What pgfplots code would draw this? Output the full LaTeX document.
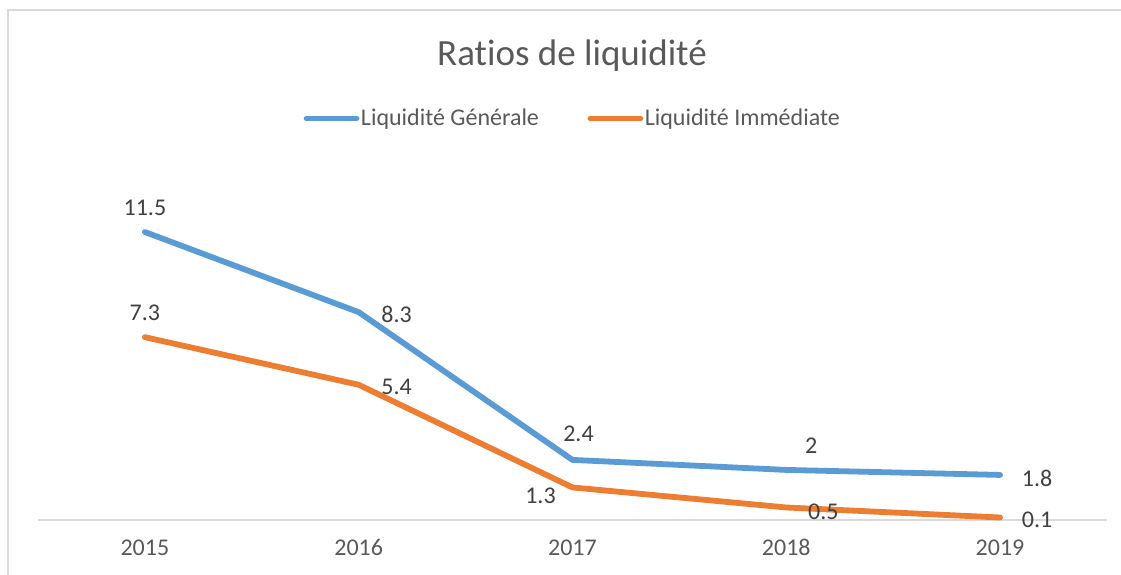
\documentclass[border=0pt]{standalone}
\usepackage{pgfplots}
\pgfplotsset{compat=1.18}
\usepackage{fontspec}
\setmainfont{Carlito}[Ligatures=NoCommon]
\definecolor{cblue}{HTML}{5B9BD5}
\definecolor{corange}{HTML}{ED7D31}
\definecolor{ctext}{HTML}{595959}
\definecolor{clabel}{HTML}{404040}
\definecolor{cgrid}{HTML}{D9D9D9}
\begin{document}
\begin{tikzpicture}[x=1pt,y=1pt]
\useasboundingbox (0,0) rectangle (1121,574);
\draw[cgrid, line width=1.5pt] (8,-5) -- (8,564) -- (1130,564);
\node[anchor=base, text=ctext, font=\fontsize{37}{44}\selectfont] at (572,508) {Ratios de liquidité};
\begin{axis}[
  at={(38pt,54pt)}, anchor=south west,
  scale only axis, width=1069pt, height=350.6pt,
  xmin=-0.5, xmax=4.5, ymin=0, ymax=14,
  axis y line=none,
  axis x line*=bottom,
  x axis line style={cgrid, line width=1.5pt, -},
  xtick={0,1,2,3,4},
  xticklabels={2015,2016,2017,2018,2019},
  major tick length=0pt,
  xticklabel style={text=ctext, font=\fontsize{24}{28}\selectfont, yshift=-16pt},
  clip=false,
  legend columns=2,
  legend style={at={(0.5,1)}, anchor=center, yshift=51pt, draw=none, fill=none,
    font=\fontsize{24}{28}\selectfont, text=ctext, inner sep=0pt,
    /tikz/every even column/.append style={column sep=47pt},
    nodes={inner sep=1.5pt}},
  legend image code/.code={\draw[#1, line width=5.8pt, line cap=round] (0pt,0pt) -- (50pt,0pt);},
]
\addplot[cblue, line width=5.8pt, line cap=round, line join=round] coordinates {(0,11.5) (1,8.3) (2,2.4) (3,2.0) (4,1.8)};
\addlegendentry{Liquidité Générale}
\addplot[corange, line width=5.8pt, line cap=round, line join=round] coordinates {(0,7.3) (1,5.4) (2,1.3) (3,0.5) (4,0.1)};
\addlegendentry{Liquidité Immédiate}
\begin{scope}[every node/.style={text=clabel, font=\fontsize{24}{28}\selectfont, inner sep=0pt}]
\node[xshift=0pt, yshift=24pt] at (axis cs:0,11.5) {11.5};
\node[xshift=38pt, yshift=-2pt] at (axis cs:1,8.3) {8.3};
\node[xshift=6pt, yshift=26pt] at (axis cs:2,2.4) {2.4};
\node[xshift=25pt, yshift=24pt] at (axis cs:3,2.0) {2};
\node[xshift=37pt, yshift=-3pt] at (axis cs:4,1.8) {1.8};
\node[xshift=0pt, yshift=24pt] at (axis cs:0,7.3) {7.3};
\node[xshift=38pt, yshift=-2pt] at (axis cs:1,5.4) {5.4};
\node[xshift=-32pt, yshift=-8pt] at (axis cs:2,1.3) {1.3};
\node[xshift=37pt, yshift=-4pt] at (axis cs:3,0.5) {0.5};
\node[xshift=37pt, yshift=-2pt] at (axis cs:4,0.1) {0.1};
\end{scope}
\end{axis}
\end{tikzpicture}
\end{document}
